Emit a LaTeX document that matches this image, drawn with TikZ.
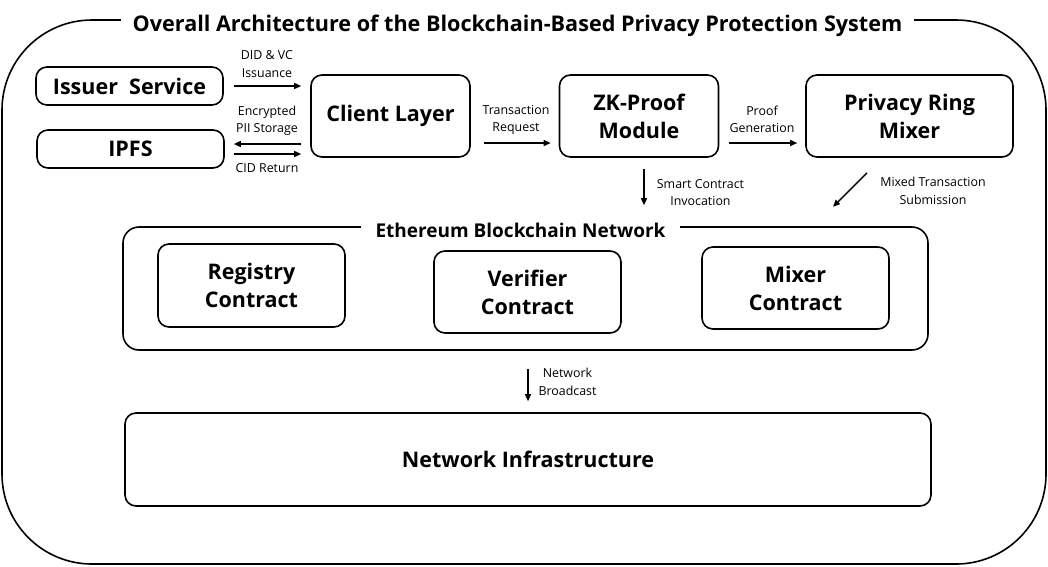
\documentclass[tikz,border=0pt]{standalone}
\usepackage{fontspec}
\setmainfont{Open Sans}
\usetikzlibrary{arrows.meta,calc}
\begin{document}
\begin{tikzpicture}[x=1pt,y=-1pt,
  box/.style={draw, line width=1.6pt, rounded corners=11pt, align=center, inner sep=0pt,
    font=\bfseries\fontsize{21.5}{28}\selectfont},
  frame/.style={draw, line width=1.6pt, inner sep=0pt},
  lbl/.style={align=center, inner sep=0pt, font=\fontsize{12.4}{17.5}\selectfont},
  ttl/.style={fill=white, inner xsep=12pt, inner ysep=3pt, anchor=base},
  arr/.style={line width=1.4pt, -{Triangle[length=7pt,width=6pt]}}]
\useasboundingbox (0,0) rectangle (1048,566);
% outer frame
\node[frame, rounded corners=90pt, minimum width=1044pt, minimum height=544pt] (outer) at (524,292) {};
\node[ttl, font=\bfseries\fontsize{21.6}{26}\selectfont] (title) at (517.5,31.5)
  {Overall Architecture of the Blockchain-Based Privacy Protection System};
% top row
\node[box, minimum width=187pt, minimum height=38pt] (issuer) at (129.5,86) {Issuer\ \ Service};
\node[box, minimum width=187pt, minimum height=38pt] (ipfs) at (130.5,149) {IPFS};
\node[box, minimum width=159pt, minimum height=82pt] (client) at (390.5,116) {Client Layer};
\node[box, minimum width=159pt, minimum height=82pt] (zk) at (639,116) {ZK-Proof\\Module};
\node[box, minimum width=207pt, minimum height=82pt] (prm) at (909.5,116) {Privacy Ring\\Mixer};
% ethereum network
\node[frame, rounded corners=16pt, minimum width=805pt, minimum height=123pt] (eth) at (525.5,288.5) {};
\node[ttl, inner xsep=15pt, font=\bfseries\fontsize{19}{22}\selectfont] (ethtitle) at (520.5,237)
  {Ethereum Blockchain Network};
\node[box, minimum width=187pt, minimum height=83pt] (registry) at (251.5,285.5) {Registry\\Contract};
\node[box, minimum width=187pt, minimum height=82pt] (verifier) at (527.5,292) {Verifier\\Contract};
\node[box, minimum width=187pt, minimum height=82pt] (mixer) at (795.5,288) {Mixer\\Contract};
% network infrastructure
\node[box, minimum width=806pt, minimum height=93pt] (netinf) at (528,459.5) {Network Infrastructure};
% connector end points
\coordinate (ipfsU) at ($(ipfs.east)+(0,-5)$);
\coordinate (ipfsD) at ($(ipfs.east)+(0,5)$);
\coordinate (clientR) at ($(client.east)+(0,27)$);
\coordinate (zkR) at ($(zk.east)+(0,27)$);
\coordinate (zkS) at ($(zk.south)+(5,0)$);
\coordinate (ethS) at ($(eth.south)+(2.5,0)$);
\coordinate (mxs) at ($(prm.south)+(-42.5,15)$);
\coordinate (mxe) at ($(prm.south)+(-76.5,49)$);
% connectors
\draw[arr, shorten <=10pt, shorten >=9pt] (issuer.east) -- (issuer.east -| client.west);
\draw[arr, shorten <=9pt, shorten >=9pt] (ipfsU -| client.west) -- (ipfsU);
\draw[arr, shorten <=9pt, shorten >=9pt] (ipfsD) -- (ipfsD -| client.west);
\draw[arr, shorten <=13pt, shorten >=8pt] (clientR) -- (clientR -| zk.west);
\draw[arr, shorten <=10pt, shorten >=8pt] (zkR) -- (zkR -| prm.west);
\draw[arr, shorten <=11pt, shorten >=21pt] (zkS) -- (zkS |- eth.north);
\draw[arr] (mxs) -- (mxe);
\draw[arr, shorten <=18pt, shorten >=11pt] (ethS) -- (ethS |- netinf.north);
% labels
\node[lbl] (l1) at (267,64) {DID \& VC\\Issuance};
\node[lbl] (l2) at (267,121) {Encrypted\\PII Storage};
\node[lbl] (l3) at (267,168) {CID Return};
\node[lbl] (l4) at (516,120) {Transaction\\Request};
\node[lbl] (l5) at (762,119.5) {Proof\\Generation};
\node[lbl] (l6) at (700.5,192.5) {Smart Contract\\Invocation};
\node[lbl] (l7) at (933,191) {Mixed Transaction\\Submission};
\node[lbl] (l8) at (567.5,382) {Network\\Broadcast};
\end{tikzpicture}
\end{document}
